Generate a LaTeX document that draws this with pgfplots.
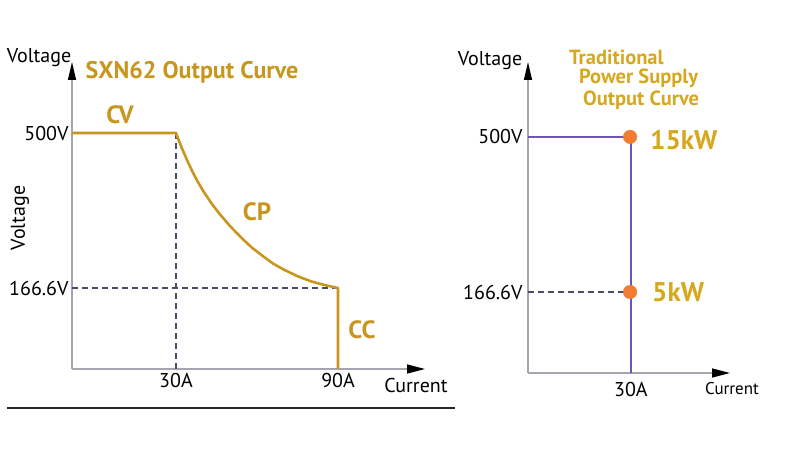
\documentclass[border=0pt]{standalone}
\usepackage{fontspec}
\setmainfont{PT Sans}
\usepackage{pgfplots}
\pgfplotsset{compat=1.18}
\usetikzlibrary{arrows.meta}

\definecolor{golda}{RGB}{200,150,30}
\definecolor{goldb}{RGB}{214,168,32}
\definecolor{purp}{RGB}{108,84,188}
\definecolor{dotor}{RGB}{240,125,50}
\definecolor{dashc}{RGB}{75,75,110}
\definecolor{axgray}{RGB}{165,165,175}

\pgfplotsset{
    curvebase/.style={
        scale only axis,
        axis lines=left,
        clip=false,
        major tick length=0pt,
        axis line style={axgray, line width=1.4pt},
        x axis line style={-{Triangle[black,length=18pt,width=9pt]}},
        y axis line style={-{Triangle[black,length=18pt,width=8pt]}},
        tick label style={font=\fontsize{20}{24}\selectfont, black},
        /pgf/number format/assume math mode=true,
    }
}

\begin{document}
\begin{tikzpicture}
    \useasboundingbox (0,0) rectangle (788pt,451pt);

    % left: SXN62
    \begin{axis}[
            curvebase,
            at={(72pt,82pt)}, anchor=south west,
            width=353pt, height=307pt,
            xmin=-8.5, xmax=122.2,
            ymin=-7.5, ymax=652.7,
            xtick={30,90}, xticklabels={30A,90A},
            ytick={166.6,500}, yticklabels={166.6V,500V},
            xticklabel style={yshift=-1pt},
        ]
        \addplot[dashc, line width=1.5pt, dash pattern=on 6pt off 4pt] coordinates {(30,500) (30,-7.5)};
        \addplot[dashc, line width=1.5pt, dash pattern=on 6pt off 4pt] coordinates {(-8.5,166.6) (90,166.6)};
        \addplot[golda, line width=2.6pt, line join=round] coordinates {
            (-8.5,500) (30,500) (32,470) (34,443) (36,418) (38,396)
            (40,376) (43,350) (46,327) (50,300) (54,276) (58,254)
            (62,236) (66,219) (70,206) (75,192) (80,181) (85,173)
            (90,166.6) (90,-7.5)
        };
    \end{axis}

    % right: traditional
    \begin{axis}[
            curvebase,
            at={(528pt,78pt)}, anchor=south west,
            width=202pt, height=311pt,
            xmin=-8.1, xmax=66.7,
            ymin=-7.5, ymax=661,
            xtick={30}, xticklabels={30A},
            ytick={166.6,500}, yticklabels={166.6V,500V},
            xticklabel style={yshift=-6pt},
            yticklabel style={xshift=-2pt},
        ]
        \addplot[dashc, line width=1.5pt, dash pattern=on 6pt off 4pt] coordinates {(-8.1,166.6) (29,166.6)};
        \addplot[only marks, mark=*, mark size=6.8pt, dotor, mark options={draw=none, fill=dotor}] coordinates {(29.7,500) (29.7,166.6)};
        \addplot[purp, line width=2.6pt] coordinates {(-8.1,500) (30,500) (30,-7.5)};
    \end{axis}

    \draw[black!85, line width=2.5pt] (7pt,43pt) -- (455pt,43pt);

    \begin{scope}[every node/.style={inner sep=0pt}]
        % left texts
        \node[font=\fontsize{20}{24}\selectfont] at (39pt,393pt) {Voltage};
        \node[font=\fontsize{20}{24}\selectfont, rotate=90] at (20pt,233pt) {Voltage};
        \node[font=\fontsize{20}{24}\selectfont] at (416pt,66pt) {Current};
        \node[font=\fontsize{24}{28}\selectfont\bfseries, golda] at (192pt,379pt) {SXN62 Output Curve};
        \node[font=\fontsize{25}{28}\selectfont\bfseries, golda] at (120pt,336pt) {CV};
        \node[font=\fontsize{25}{28}\selectfont\bfseries, golda] at (257pt,239pt) {CP};
        \node[font=\fontsize{25}{28}\selectfont\bfseries, golda] at (362pt,121pt) {CC};
        % right texts
        \node[font=\fontsize{20}{24}\selectfont] at (490pt,390pt) {Voltage};
        \node[font=\fontsize{17}{20}\selectfont] at (732pt,62pt) {Current};
        \node[font=\fontsize{20.5}{24}\selectfont\bfseries, goldb, anchor=west] at (569pt,394pt) {Traditional};
        \node[font=\fontsize{20.5}{24}\selectfont\bfseries, goldb, anchor=west] at (579pt,373pt) {Power Supply};
        \node[font=\fontsize{20.5}{24}\selectfont\bfseries, goldb, anchor=west] at (583pt,351pt) {Output Curve};
        \node[font=\fontsize{27}{30}\selectfont\bfseries, goldb, anchor=west] at (650pt,311pt) {15kW};
        \node[font=\fontsize{27}{30}\selectfont\bfseries, goldb, anchor=west] at (652pt,159pt) {5kW};
    \end{scope}
\end{tikzpicture}
\end{document}
